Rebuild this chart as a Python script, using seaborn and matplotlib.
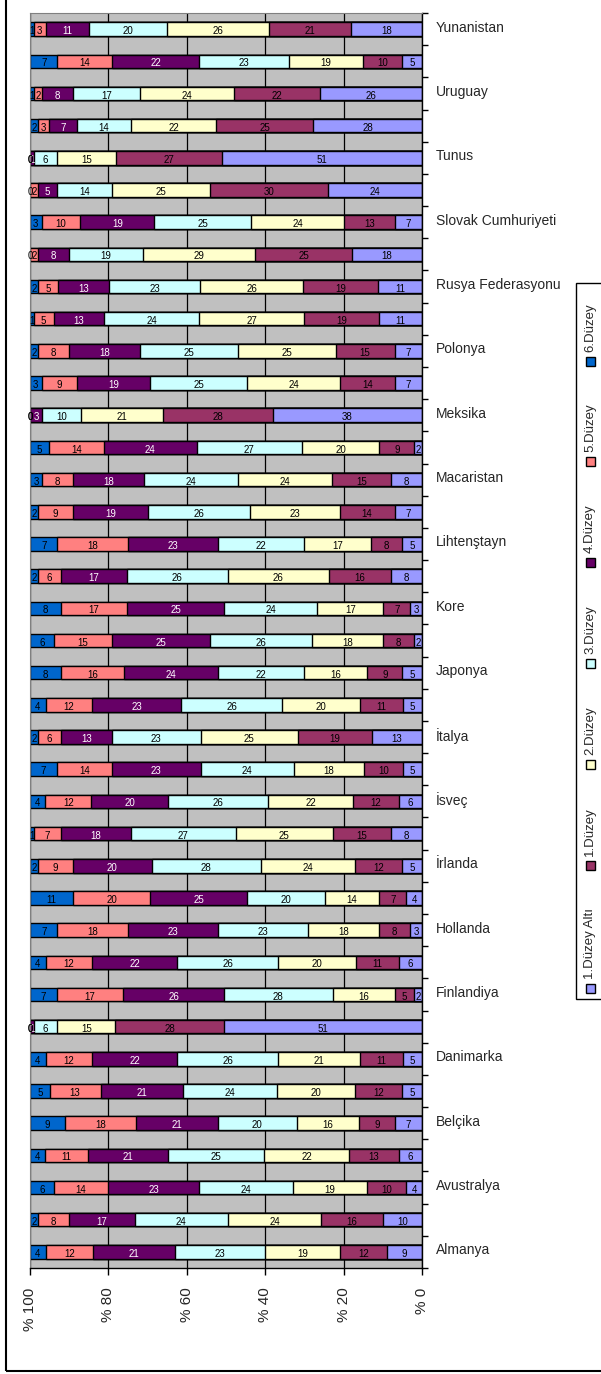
import numpy as np
import pandas as pd
import matplotlib
matplotlib.use("Agg")
import matplotlib.pyplot as plt
import matplotlib.transforms as mtransforms
import seaborn as sns
from matplotlib.patches import Rectangle

# bars from top to bottom; only every other bar carries a name on the chart
countries = ["Yunanistan", "", "Uruguay", "", "Tunus", "", "Slovak Cumhuriyeti", "",
             "Rusya Federasyonu", "", "Polonya", "", "Meksika", "", "Macaristan", "",
             "Lihtenştayn", "", "Kore", "", "Japonya", "", "İtalya", "", "İsveç", "",
             "İrlanda", "", "Hollanda", "", "Finlandiya", "", "Danimarka", "", "Belçika", "",
             "Avustralya", "", "Almanya"]

levels = ["1.Düzey Altı", "1.Düzey", "2.Düzey", "3.Düzey", "4.Düzey", "5.Düzey", "6.Düzey"]

alti = [18, 5, 26, 28, 51, 24, 7, 18, 11, 11, 7, 7, 38, 2, 8, 7, 5, 8, 3, 2,
        5, 5, 13, 5, 6, 8, 5, 4, 3, 6, 2, 51, 5, 5, 7, 6, 4, 10, 9]
duzey1 = [21, 10, 22, 25, 27, 30, 13, 25, 19, 19, 15, 14, 28, 9, 15, 14, 8, 16, 7, 8,
          9, 11, 19, 10, 12, 15, 12, 7, 8, 11, 5, 28, 11, 12, 9, 13, 10, 16, 12]
duzey2 = [26, 19, 24, 22, 15, 25, 24, 29, 26, 27, 25, 24, 21, 20, 24, 23, 17, 26, 17, 18,
          16, 20, 25, 18, 22, 25, 24, 14, 18, 20, 16, 15, 21, 20, 16, 22, 19, 24, 19]
duzey3 = [20, 23, 17, 14, 6, 14, 25, 19, 23, 24, 25, 25, 10, 27, 24, 26, 22, 26, 24, 26,
          22, 26, 23, 24, 26, 27, 28, 20, 23, 26, 28, 6, 26, 24, 20, 25, 24, 24, 23]
duzey4 = [11, 22, 8, 7, 1, 5, 19, 8, 13, 13, 18, 19, 3, 24, 18, 19, 23, 17, 25, 25,
          24, 23, 13, 23, 20, 18, 20, 25, 23, 22, 26, 1, 22, 21, 21, 21, 23, 17, 21]
duzey5 = [3, 14, 2, 3, 0, 2, 10, 2, 5, 5, 8, 9, 0, 14, 8, 9, 18, 6, 17, 15,
          16, 12, 6, 14, 12, 7, 9, 20, 18, 12, 17, 0, 12, 13, 18, 11, 14, 8, 12]
duzey6 = [1, 7, 1, 2, 0, 0, 3, 0, 2, 1, 2, 3, 0, 5, 3, 2, 7, 2, 8, 6,
          8, 4, 2, 7, 4, 1, 2, 11, 7, 4, 7, 0, 4, 5, 9, 4, 6, 2, 4]

colors = ["#9999FF", "#993366", "#FFFFCC", "#CCFFFF", "#660066", "#FF8080", "#0066CC"]
x_ticks = [100, 80, 60, 40, 20, 0]
x_labels = ["% 100", "% 80", "% 60", "% 40", "% 20", "% 0"]

# 100% stacked: each bar scaled to its own total
vals = np.array([alti, duzey1, duzey2, duzey3, duzey4, duzey5, duzey6], dtype=float)
share = vals / vals.sum(axis=0) * 100
cum = np.cumsum(share, axis=0)
n = len(countries)
pos = np.arange(n)[::-1]

sns.set_style("white")
plt.rcParams["font.family"] = ["Liberation Sans", "DejaVu Sans"]

W, H = 601, 1374
fig = plt.figure(figsize=(W / 100, H / 100), dpi=100)
ax = fig.add_axes([30 / W, 1 - 1268 / H, 392 / W, 1255 / H])
ax.set_facecolor("#C0C0C0")

# draw cumulative bars from the longest down so each level shows its own segment
for k in range(len(levels) - 1, -1, -1):
    df = pd.DataFrame({"pos": pos, "cum": cum[k]})
    sns.barplot(data=df, x="cum", y="pos", orient="h", native_scale=True, width=0.42,
                color=colors[k], saturation=1, edgecolor="black", linewidth=1,
                errorbar=None, ax=ax)

# value labels inside segments
for k in range(len(levels)):
    left = cum[k] - share[k]
    for i in range(n):
        ax.annotate(str(int(vals[k][i])), (left[i] + share[k][i] / 2, pos[i]),
                    xytext=(0, -1.5), textcoords="offset points",
                    ha="center", va="center", fontsize=7,
                    color="white" if k == 4 else "black", zorder=5)

ax.set_xlim(100, 0)
ax.set_ylim(-0.5, n - 0.5)
ax.set_xlabel("")
ax.set_ylabel("")
ax.grid(axis="x", color="black", linewidth=0.9)
ax.grid(axis="y", visible=False)
ax.set_axisbelow(True)

ax.set_xticks(x_ticks)
ax.set_xticklabels(x_labels, rotation=90, fontsize=11)
ax.tick_params(axis="x", direction="out", length=5, width=1, color="black", pad=9, bottom=True)

ax.yaxis.tick_right()
label_idx = [i for i, c in enumerate(countries) if c]
ax.set_yticks(pos[label_idx])
ax.set_yticklabels([countries[i] for i in label_idx], fontsize=10)
ax.set_yticks(np.arange(-0.5, n), minor=True)
ax.tick_params(axis="y", which="major", length=0, pad=10, right=True, left=False)
ax.tick_params(axis="y", which="minor", length=4, width=1, color="black",
               direction="out", right=True, left=False)
# names sit a little above the bar centre in the original
lift = mtransforms.ScaledTranslation(0, 3 / 100, fig.dpi_scale_trans)
for lab in ax.get_yticklabels():
    lab.set_transform(lab.get_transform() + lift)

for side in ["left", "top"]:
    ax.spines[side].set_color("#808080")
for side in ["right", "bottom"]:
    ax.spines[side].set_color("black")
    ax.spines[side].set_linewidth(1)

# outer frame of the chart area
fig.patches.append(Rectangle((6 / W, 1 - 1371 / H), 620 / W, 1400 / H, transform=fig.transFigure,
                             fill=False, edgecolor="black", linewidth=1.5))

# vertical legend on the right
fig.patches.append(Rectangle((576 / W, 1 - 999 / H), 40 / W, (999 - 283) / H,
                             transform=fig.transFigure, facecolor="white",
                             edgecolor="black", linewidth=1))
renderer = fig.canvas.get_renderer()
texts = [fig.text(590 / W, 0, lab, rotation=90, fontsize=9.5, ha="center", va="bottom")
         for lab in levels]
heights = [t.get_window_extent(renderer).height for t in texts]
msz, g1 = 9, 5
g2 = ((993 - 303) - len(levels) * (msz + g1) - sum(heights)) / (len(levels) - 1)
y = 993
for col, t, h in zip(colors, texts, heights):
    fig.patches.append(Rectangle(((590 - msz / 2) / W, 1 - y / H), msz / W, msz / H,
                                 transform=fig.transFigure, facecolor=col,
                                 edgecolor="black", linewidth=1))
    y -= msz + g1
    t.set_y(1 - y / H)
    y -= h + g2

fig.savefig("out.png", dpi=100)
